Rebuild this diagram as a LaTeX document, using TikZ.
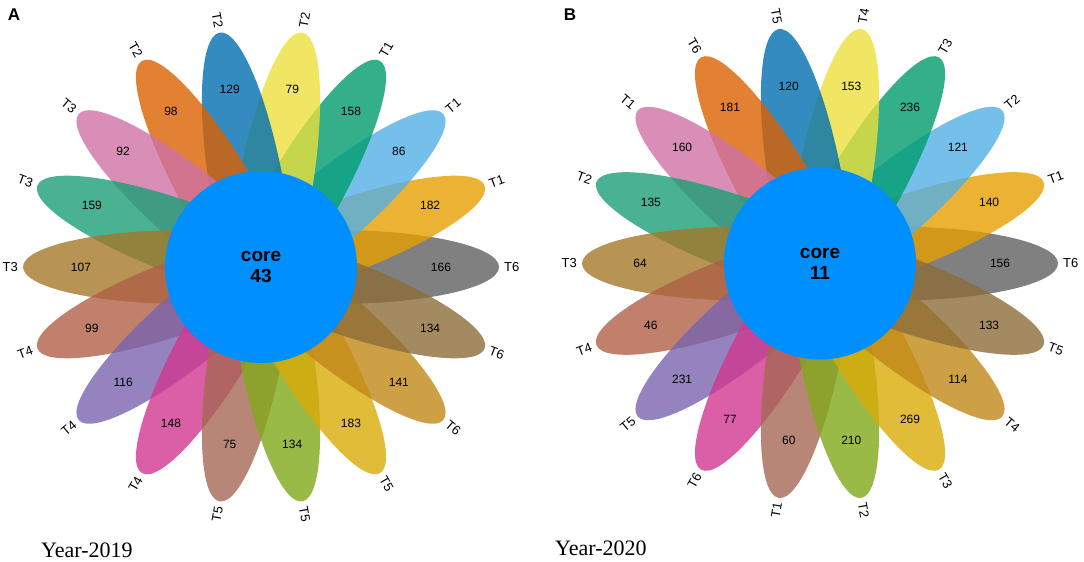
\documentclass[tikz,border=0pt]{standalone}
\usepackage{fontspec}
\setmainfont{Liberation Serif}
\setsansfont{Liberation Sans}
\definecolor{p0}{RGB}{96,96,96}
\definecolor{p1}{RGB}{231,159,0}
\definecolor{p2}{RGB}{82,176,230}
\definecolor{p3}{RGB}{0,156,109}
\definecolor{p4}{RGB}{236,224,61}
\definecolor{p5}{RGB}{0,110,176}
\definecolor{p6}{RGB}{219,96,0}
\definecolor{p7}{RGB}{206,114,164}
\definecolor{p8}{RGB}{26,159,119}
\definecolor{p9}{RGB}{165,120,41}
\definecolor{p10}{RGB}{176,96,71}
\definecolor{p11}{RGB}{121,100,175}
\definecolor{p12}{RGB}{209,55,144}
\definecolor{p13}{RGB}{166,104,84}
\definecolor{p14}{RGB}{129,169,26}
\definecolor{p15}{RGB}{217,171,7}
\definecolor{p16}{RGB}{192,136,24}
\definecolor{p17}{RGB}{141,109,56}
\definecolor{corecol}{RGB}{0,143,255}
\tikzset{
  petal/.style={fill=#1, fill opacity=0.8},
  num/.style={font=\sffamily\fontsize{12}{12}\selectfont, text=black, inner sep=1pt},
  tlab/.style={font=\sffamily\fontsize{13}{13}\selectfont, text=black, inner sep=0pt},
  corenode/.style={circle, fill=corecol, minimum size=192pt, inner sep=0pt,
    font=\sffamily\bfseries\fontsize{19}{21}\selectfont, align=center, text=black},
  panel/.style={font=\sffamily\bfseries\fontsize{17}{17}\selectfont, inner sep=0pt},
  year/.style={font=\fontsize{22}{22}\selectfont, anchor=base west, inner sep=0pt}
}
\begin{document}
\begin{tikzpicture}[x=1pt,y=1pt]
\useasboundingbox (0,0) rectangle (1084,562);
\coordinate (CA) at (261,295);
\coordinate (CB) at (820,298.5);
% petals
\foreach \c in {CA,CB}{
  \foreach \i in {0,...,17}{
    \pgfmathsetmacro\ang{20*\i}
    \begin{scope}[shift={(\c)}, rotate=\ang]
      \fill[petal=p\i] (74,0) ellipse [x radius=164, y radius=37];
    \end{scope}
  }
}
% numbers and labels, flower A
\foreach \i/\n/\t in {0/166/T6,1/182/T1,2/86/T1,3/158/T1,4/79/T2,5/129/T2,6/98/T2,7/92/T3,8/159/T3,9/107/T3,10/99/T4,11/116/T4,12/148/T4,13/75/T5,14/134/T5,15/183/T5,16/141/T6,17/134/T6}{
  \pgfmathsetmacro\ang{20*\i}
  \node[num] (An\i) at ([shift={(\ang:180)}]CA) {\n};
  \pgfmathtruncatemacro\side{and(\i>4,\i<14)}
  \ifnum\side=1
    \node[tlab, anchor=east, rotate=\ang-180] (At\i) at ([shift={(\ang:243)}]CA) {\t};
  \else
    \node[tlab, anchor=west, rotate=\ang] (At\i) at ([shift={(\ang:243)}]CA) {\t};
  \fi
}
% numbers and labels, flower B
\foreach \i/\n/\t in {0/156/T6,1/140/T1,2/121/T2,3/236/T3,4/153/T4,5/120/T5,6/181/T6,7/160/T1,8/135/T2,9/64/T3,10/46/T4,11/231/T5,12/77/T6,13/60/T1,14/210/T2,15/269/T3,16/114/T4,17/133/T5}{
  \pgfmathsetmacro\ang{20*\i}
  \node[num] (Bn\i) at ([shift={(\ang:180)}]CB) {\n};
  \pgfmathtruncatemacro\side{and(\i>4,\i<14)}
  \ifnum\side=1
    \node[tlab, anchor=east, rotate=\ang-180] (Bt\i) at ([shift={(\ang:243)}]CB) {\t};
  \else
    \node[tlab, anchor=west, rotate=\ang] (Bt\i) at ([shift={(\ang:243)}]CB) {\t};
  \fi
}
% cores
\node[corenode] (coreA) at (CA) {core\\43};
\node[corenode] (coreB) at (CB) {core\\11};
% panel letters and years
\node[panel] (labA) at (14,547) {A};
\node[panel] (labB) at (570,547) {B};
\node[year] (yearA) at (41,5) {Year-2019};
\node[year] (yearB) at (555,6) {Year-2020};
\end{tikzpicture}
\end{document}
